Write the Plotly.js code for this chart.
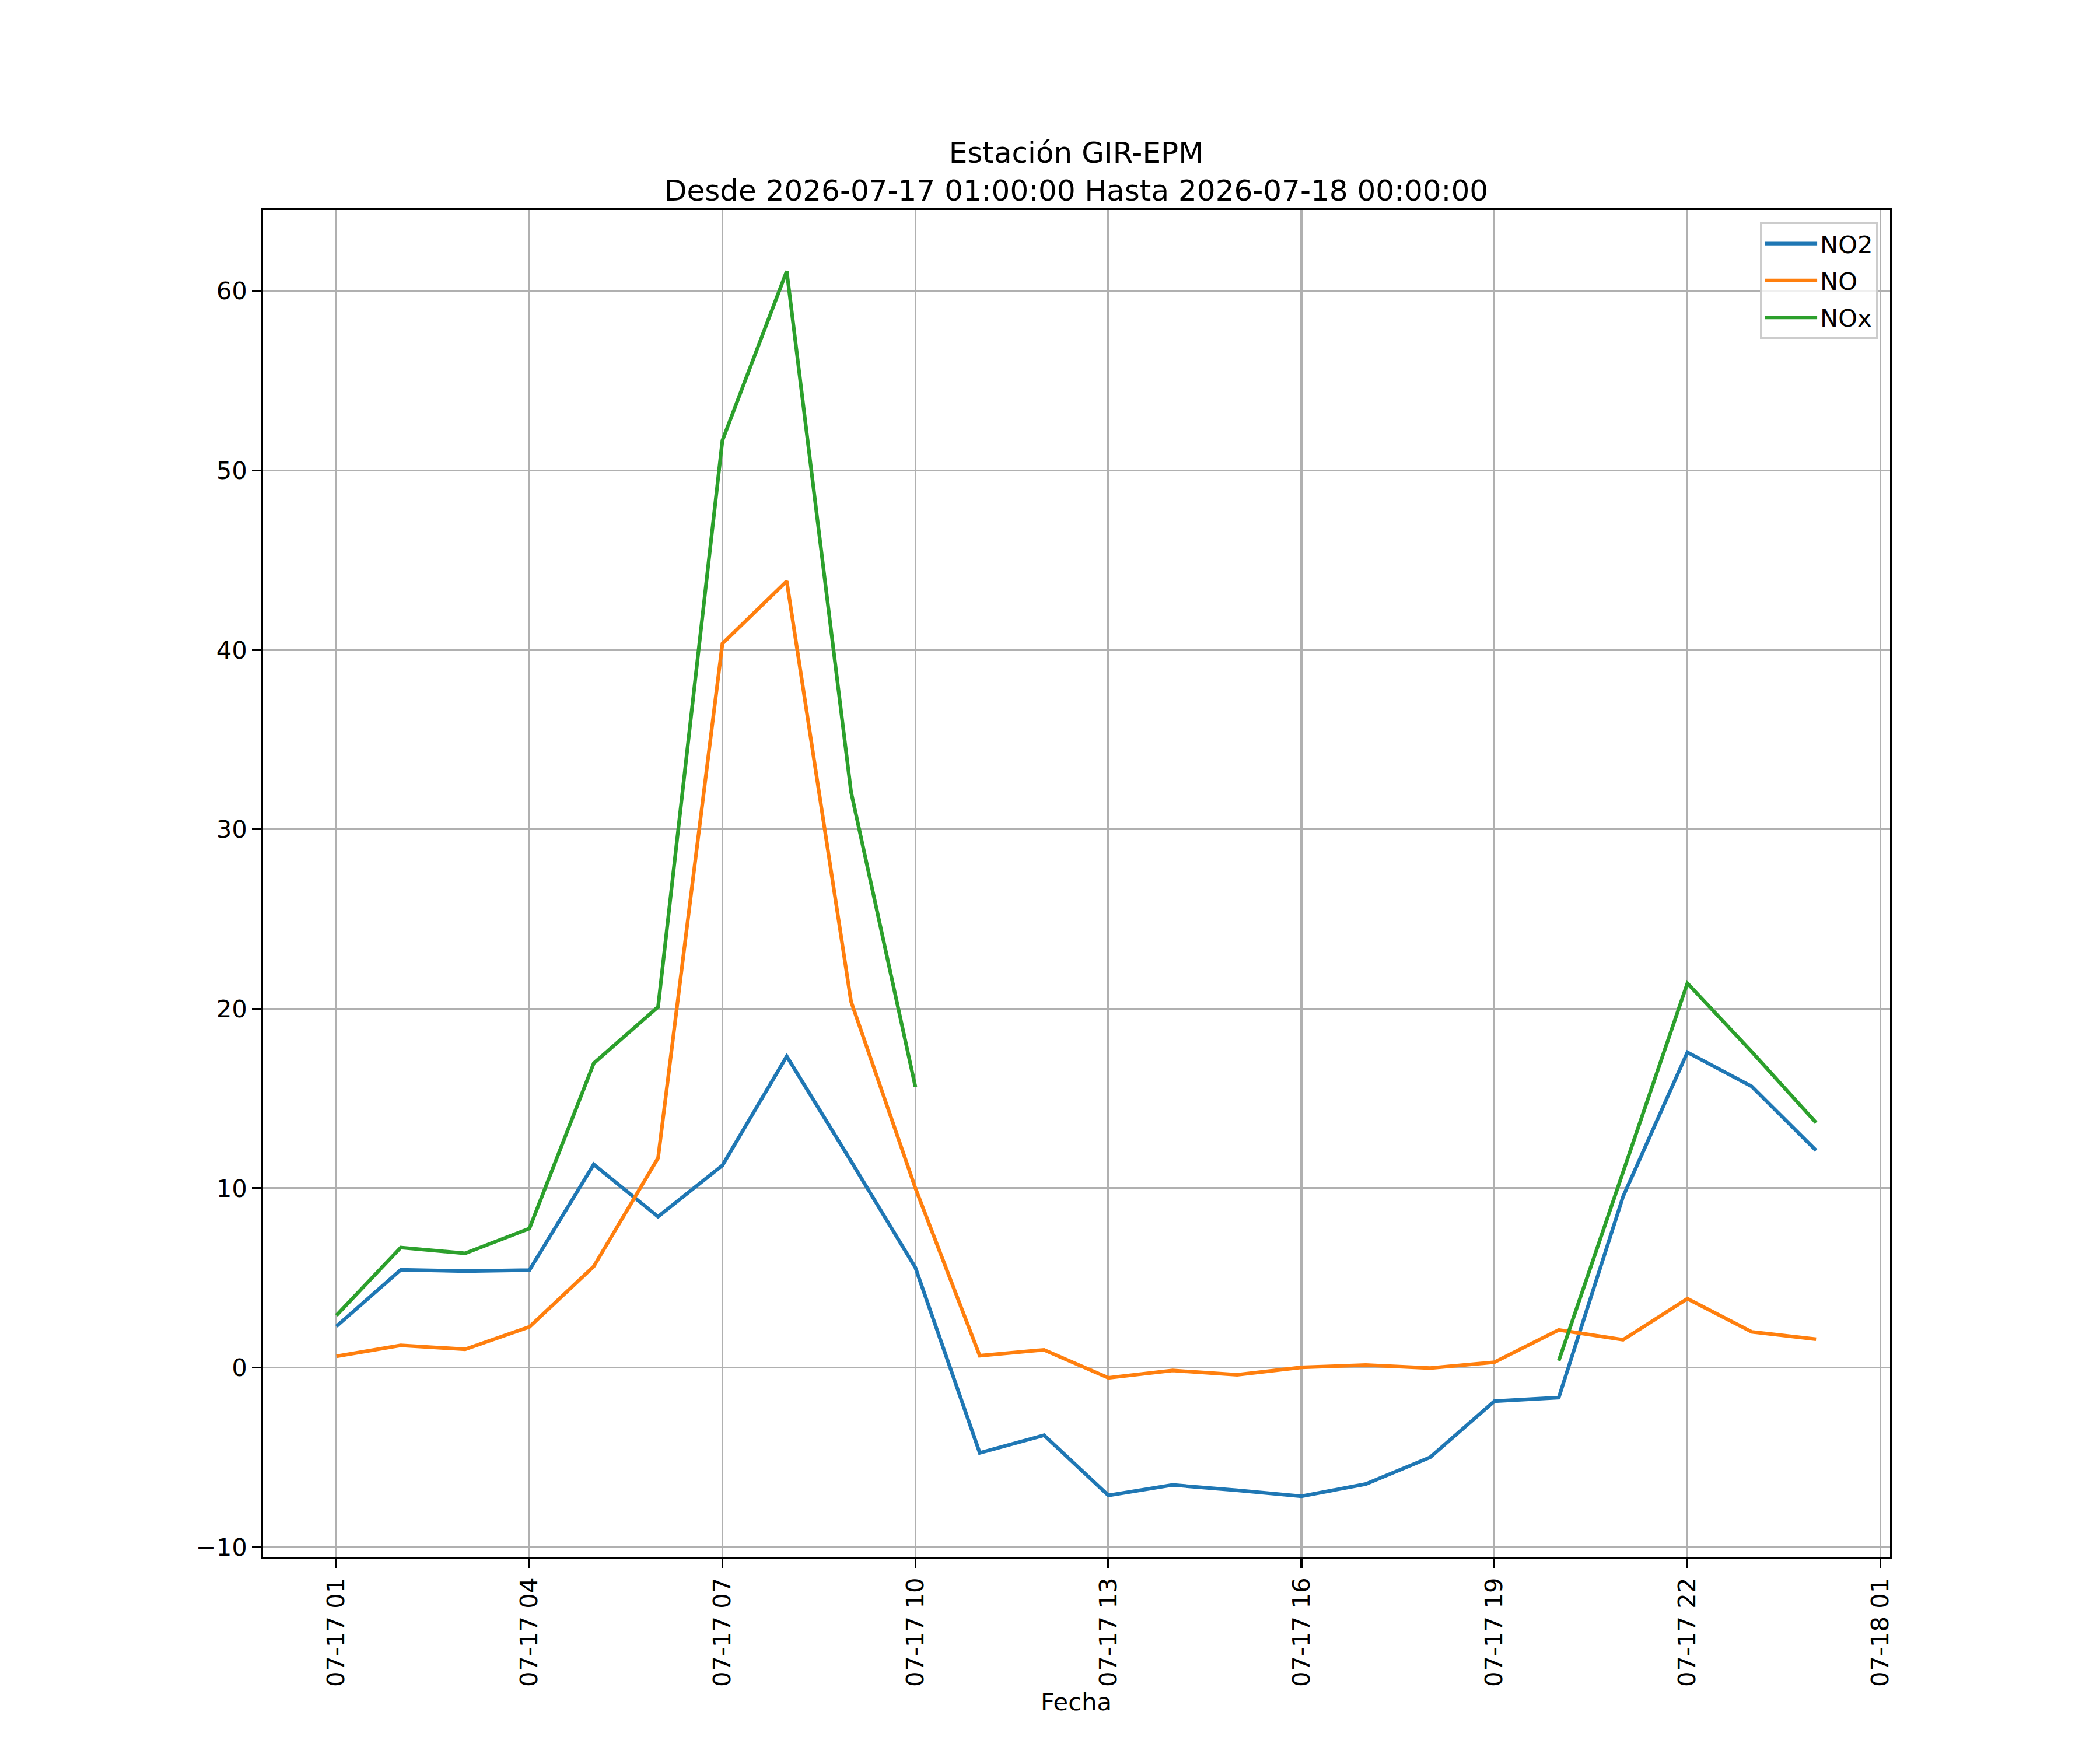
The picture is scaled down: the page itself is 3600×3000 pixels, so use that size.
<!DOCTYPE html>
<html>
<head>
<meta charset="utf-8">
<script src="https://cdn.plot.ly/plotly-3.0.1.min.js"></script>
<style>
  body { margin: 0; background: #fff; }
</style>
</head>
<body>
<div id="plot"></div>
<script>
// hourly readings, GIR-EPM station
const hours = [
  '2026-07-17 01:00', '2026-07-17 02:00', '2026-07-17 03:00', '2026-07-17 04:00',
  '2026-07-17 05:00', '2026-07-17 06:00', '2026-07-17 07:00', '2026-07-17 08:00',
  '2026-07-17 09:00', '2026-07-17 10:00', '2026-07-17 11:00', '2026-07-17 12:00',
  '2026-07-17 13:00', '2026-07-17 14:00', '2026-07-17 15:00', '2026-07-17 16:00',
  '2026-07-17 17:00', '2026-07-17 18:00', '2026-07-17 19:00', '2026-07-17 20:00',
  '2026-07-17 21:00', '2026-07-17 22:00', '2026-07-17 23:00', '2026-07-18 00:00'
];

const no2 = [2.3, 5.45, 5.38, 5.43, 11.32, 8.41, 11.27, 17.35, 11.5, 5.57, -4.75, -3.77,
  -7.12, -6.54, -6.84, -7.17, -6.49, -5.0, -1.87, -1.67, 9.53, 17.57, 15.67, 12.1];

const no = [0.63, 1.24, 1.02, 2.27, 5.64, 11.68, 40.35, 43.83, 20.4, 10.0, 0.66, 0.99,
  -0.57, -0.16, -0.4, 0.01, 0.14, -0.03, 0.3, 2.1, 1.55, 3.84, 1.99, 1.58];

// NOx has no readings between 11:00 and 19:00
const nox = [2.91, 6.69, 6.37, 7.75, 16.96, 20.1, 51.67, 61.1, 32.08, 15.64, null, null,
  null, null, null, null, null, null, null, 0.38, 10.95, 21.42, 17.6, 13.65];

const tickDates = ['2026-07-17 01:00', '2026-07-17 04:00', '2026-07-17 07:00', '2026-07-17 10:00',
  '2026-07-17 13:00', '2026-07-17 16:00', '2026-07-17 19:00', '2026-07-17 22:00', '2026-07-18 01:00'];
const tickLabels = ['07-17 01', '07-17 04', '07-17 07', '07-17 10',
  '07-17 13', '07-17 16', '07-17 19', '07-17 22', '07-18 01'];

const yTicks = [-10, 0, 10, 20, 30, 40, 50, 60];

const FONT = 'DejaVu Sans, sans-serif';
const LW = 6.25;

const traces = [
  { x: hours, y: no2, name: 'NO2', line: { color: '#1f77b4', width: LW } },
  { x: hours, y: no, name: 'NO', line: { color: '#ff7f0e', width: LW } },
  { x: hours, y: nox, name: 'NOx', line: { color: '#2ca02c', width: LW } }
].map(t => Object.assign(t, {
  type: 'scatter',
  mode: 'lines',
  connectgaps: false,
  legendgroup: t.name // separate groups so the rows can be spaced apart
}));

const axisCommon = {
  showline: true,
  mirror: true,
  linecolor: '#000',
  linewidth: 3.3,
  showgrid: true,
  gridcolor: '#b0b0b0',
  gridwidth: 3.3,
  zeroline: false,
  ticks: 'outside',
  ticklen: 14.6,
  tickwidth: 3.3,
  tickcolor: '#000',
  tickfont: { family: FONT, size: 41.7, color: '#000' }
};

const layout = {
  width: 3600,
  height: 3000,
  paper_bgcolor: '#fff',
  plot_bgcolor: '#fff',
  margin: { l: 450, r: 360, t: 360, b: 330 },
  font: { family: FONT, size: 41.7, color: '#000' },
  title: {
    text: 'Estación GIR-EPM<br>Desde 2026-07-17 01:00:00 Hasta 2026-07-18 00:00:00',
    font: { family: FONT, size: 50, color: '#000' },
    xref: 'paper',
    yref: 'container',
    x: 0.5,
    xanchor: 'center',
    y: 0.907,
    yanchor: 'top'
  },
  xaxis: Object.assign({}, axisCommon, {
    type: 'date',
    range: ['2026-07-16 23:51', '2026-07-18 01:09'],
    tickmode: 'array',
    tickvals: tickDates,
    ticktext: tickLabels,
    tickangle: -90,
    title: { text: 'Fecha', font: { family: FONT, size: 41.7, color: '#000' }, standoff: 12 }
  }),
  yaxis: Object.assign({}, axisCommon, {
    range: [-10.58, 64.51],
    tickmode: 'array',
    tickvals: yTicks,
    ticktext: yTicks.map(v => v < 0 ? '\u2212' + Math.abs(v) : String(v))
  }),
  showlegend: true,
  legend: {
    x: 0.9925,
    y: 0.9909,
    xanchor: 'right',
    yanchor: 'top',
    bgcolor: 'rgba(255,255,255,0.8)',
    bordercolor: '#cccccc',
    borderwidth: 3,
    font: { family: FONT, size: 41.7, color: '#000' },
    itemwidth: 90,
    traceorder: 'grouped',
    tracegroupgap: 6
  },
  hovermode: false
};

Plotly.newPlot('plot', traces, layout, { staticPlot: true });
</script>
</body>
</html>
